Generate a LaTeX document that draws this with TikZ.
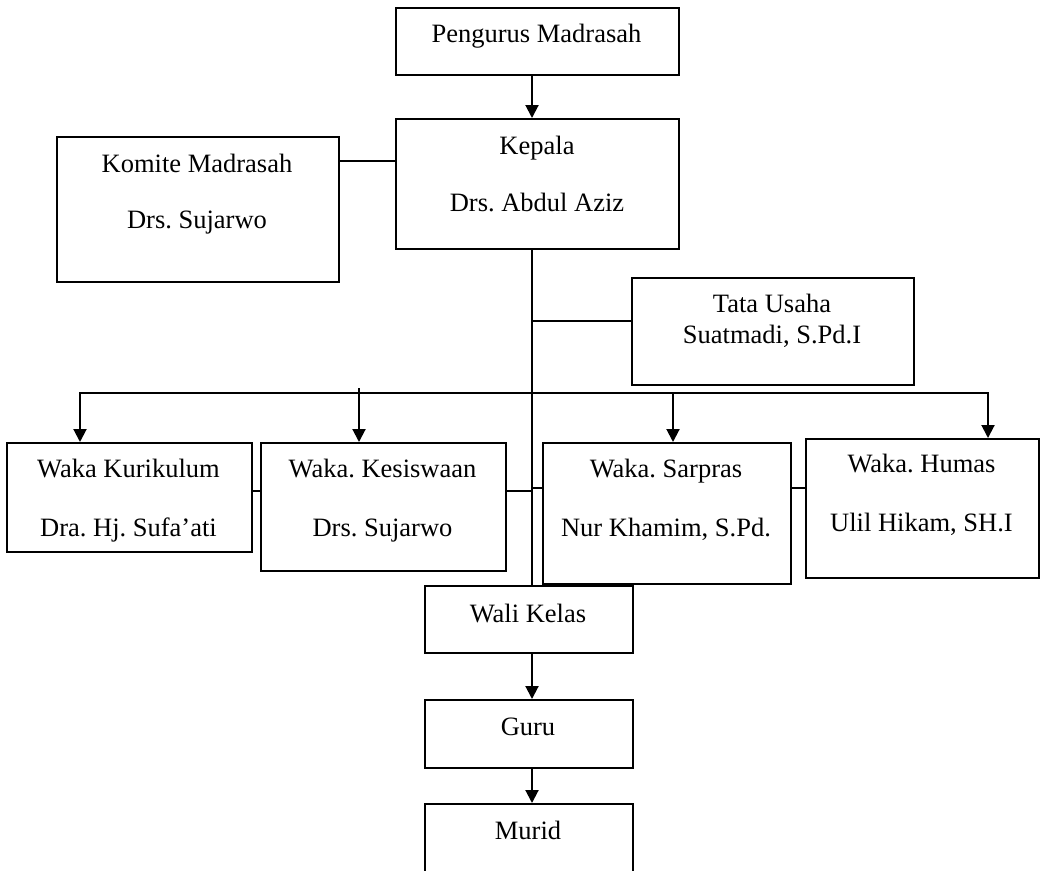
\documentclass[tikz,border=0pt]{standalone}
\usepackage{fontspec}
\setmainfont{Liberation Serif}
\usetikzlibrary{arrows.meta}
\frenchspacing
\begin{document}
\begin{tikzpicture}[x=1pt,y=-1pt,
  box/.style={draw,line width=2pt,rectangle,inner sep=0pt,anchor=north west},
  lbl/.style={font=\fontsize{26.5}{31}\selectfont\frenchspacing,inner sep=0pt,anchor=base},
  ln/.style={line width=2pt,line cap=rect},
  arr/.style={line width=2pt,-{Triangle[width=13pt,length=13pt]}}]
\clip (0,0) rectangle (1051,870);
% boxes
\node[box,minimum width=283pt,minimum height=67pt] (pengurus) at (395,7) {};
\node[box,minimum width=283pt,minimum height=130pt] (kepala) at (395,118) {};
\node[box,minimum width=282pt,minimum height=145pt] (komite) at (56,136) {};
\node[box,minimum width=282pt,minimum height=107pt] (tata) at (631,277) {};
\node[box,minimum width=245pt,minimum height=109pt] (wk) at (6,442) {};
\node[box,minimum width=245pt,minimum height=128pt] (wks) at (260,442) {};
\node[box,minimum width=248pt,minimum height=141pt] (wsp) at (542,442) {};
\node[box,minimum width=233pt,minimum height=139pt] (wh) at (805,438) {};
\node[box,minimum width=208pt,minimum height=67pt] (wali) at (424,585) {};
\node[box,minimum width=208pt,minimum height=68pt] (guru) at (424,699) {};
\node[box,minimum width=208pt,minimum height=90pt] (murid) at (424,803) {};
% texts
\node[lbl] (tpeng) at (536.5,42) {Pengurus Madrasah};
\node[lbl] (tkep1) at (537,154) {Kepala};
\node[lbl] (tkep2) at (537,211) {Drs. Abdul Aziz};
\node[lbl] (tkom1) at (197,172) {Komite Madrasah};
\node[lbl] (tkom2) at (197,228) {Drs. Sujarwo};
\node[lbl] (ttata1) at (772,312) {Tata Usaha};
\node[lbl] (ttata2) at (772,343) {Suatmadi, S.Pd.I};
\node[lbl] (twk1) at (128.5,477) {Waka Kurikulum};
\node[lbl] (twk2) at (128.5,536) {Dra. Hj. Sufa’ati};
\node[lbl] (twks1) at (382.5,477) {Waka. Kesiswaan};
\node[lbl] (twks2) at (382.5,536) {Drs. Sujarwo};
\node[lbl] (twsp1) at (666,477) {Waka. Sarpras};
\node[lbl] (twsp2) at (666,536) {Nur Khamim, S.Pd.};
\node[lbl] (twh1) at (921.5,472) {Waka. Humas};
\node[lbl] (twh2) at (921.5,531) {Ulil Hikam, SH.I};
\node[lbl] (twali) at (528,622) {Wali Kelas};
\node[lbl] (tguru) at (528,735) {Guru};
\node[lbl] (tmurid) at (528,839) {Murid};
% helper coordinates
\coordinate (sx) at (532,0);
\coordinate (ky) at (0,161);
\coordinate (ty) at (0,321);
\coordinate (ly) at (0,491);
\coordinate (ry) at (0,488);
\coordinate (a1) at (80,393);
\coordinate (a2) at (359,388);
\coordinate (a3) at (673,393);
\coordinate (a4) at (988,393);
% connectors
\draw[arr] (pengurus.south -| sx) -- (kepala.north -| sx);
\draw[ln] (komite.east |- ky) -- (kepala.west |- ky);
\draw[ln] (kepala.south -| sx) -- (wali.north -| sx);
\draw[ln] (sx |- ty) -- (tata.west |- ty);
\draw[ln] (a1) -- (a4);
\draw[arr] (a1) -- (wk.north -| a1);
\draw[arr] (a2) -- (wks.north -| a2);
\draw[arr] (a3) -- (wsp.north -| a3);
\draw[arr] (a4) -- (wh.north -| a4);
\draw[ln] (wk.east |- ly) -- (wks.west |- ly);
\draw[ln] (wks.east |- ly) -- (sx |- ly);
\draw[ln] (sx |- ry) -- (wsp.west |- ry);
\draw[ln] (wsp.east |- ry) -- (wh.west |- ry);
\draw[arr] (wali.south -| sx) -- (guru.north -| sx);
\draw[arr] (guru.south -| sx) -- (murid.north -| sx);
\end{tikzpicture}
\end{document}
